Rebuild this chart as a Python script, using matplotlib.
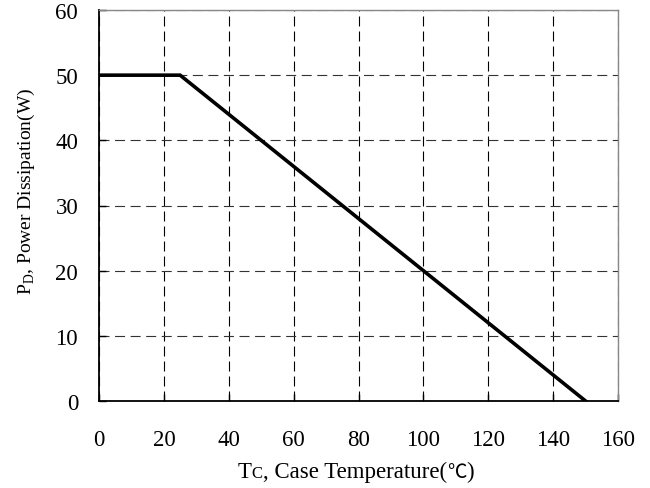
import matplotlib
matplotlib.use('Agg')
import matplotlib.pyplot as plt
from matplotlib.offsetbox import TextArea, HPacker, AnchoredOffsetbox

# derating curve: power dissipation vs case temperature
temp_c = [0, 25, 150]
power_w = [50, 50, 0]
x_ticks = [0, 20, 40, 60, 80, 100, 120, 140, 160]
y_ticks = [0, 10, 20, 30, 40, 50, 60]

plt.rcParams['font.family'] = ['Liberation Serif', 'Noto Sans CJK TC', 'DejaVu Serif']
plt.rcParams['mathtext.fontset'] = 'custom'
plt.rcParams['mathtext.rm'] = 'Liberation Serif'

fig = plt.figure(figsize=(6.5, 4.89), dpi=100)
ax = fig.add_axes([99 / 650, 1 - 402 / 489, 519 / 650, 391 / 489])

ax.plot(temp_c, power_w, color='black', linewidth=2.6, solid_joinstyle='miter', zorder=3)

ax.set_xlim(0, 160)
ax.set_ylim(0, 60)
ax.set_xticks(x_ticks)
ax.set_yticks(y_ticks)
ax.xaxis.grid(True, color='black', linestyle=(0, (9, 4.5)), linewidth=0.8)
ax.yaxis.grid(True, color='#333333', linestyle=(0, (9, 5)), linewidth=0.8)
ax.tick_params(direction='in', length=5, width=1, labelsize=16.5)
ax.tick_params(axis='x', pad=20)
ax.tick_params(axis='y', pad=15)

for side in ['left', 'bottom']:
    ax.spines[side].set_linewidth(1.3)
for side in ['top', 'right']:
    ax.spines[side].set_color('#888888')
    ax.spines[side].set_linewidth(1.0)

# x label built from pieces so the small "C" and the ℃ sign render properly
big = dict(fontsize=16.5, color='black')
parts = [
    TextArea('T', textprops=big),
    TextArea('C', textprops=dict(fontsize=12, color='black')),
    TextArea(', Case Temperature(', textprops=big),
    TextArea('℃', textprops=dict(fontsize=14, color='black', family='Noto Sans CJK TC')),
    TextArea(')', textprops=big),
]
xlab = HPacker(children=parts, align='baseline', pad=0, sep=0)
box = AnchoredOffsetbox(loc='center', child=xlab, frameon=False, pad=0, borderpad=0,
                        bbox_to_anchor=(356 / 650, 1 - 472 / 489), bbox_transform=fig.transFigure)
fig.add_artist(box)

ax.set_ylabel(r'P$_\mathregular{D}$, Power Dissipation(W)', fontsize=14)
ax.yaxis.set_label_coords(-0.12, 0.54)

fig.savefig('out.png', dpi=100)
